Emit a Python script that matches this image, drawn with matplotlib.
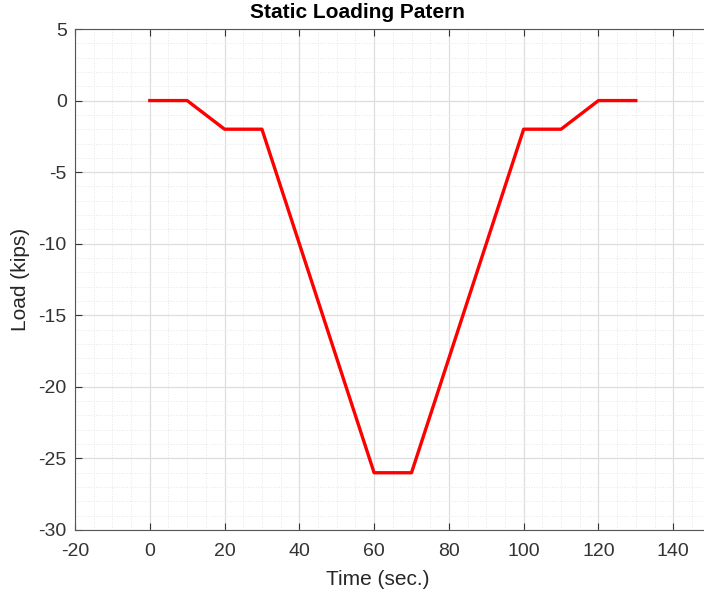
import matplotlib.pyplot as plt
from matplotlib.ticker import MultipleLocator

# Loading pattern
time_s = [0, 10, 20, 30, 60, 70, 100, 110, 120, 130]
load_kips = [0, 0, -2, -2, -26, -26, -2, -2, 0, 0]
x_ticks = [-20, 0, 20, 40, 60, 80, 100, 120, 140]

plt.rcParams['font.family'] = ['Liberation Sans', 'DejaVu Sans']
plt.rcParams['axes.unicode_minus'] = False

fig = plt.figure(figsize=(7.04, 5.97), dpi=100)
ax = fig.add_axes([75 / 704, 67 / 597, 673 / 704, 501 / 597])

ax.plot(time_s, load_kips, color='red', linewidth=2.4)

ax.set_xlim(-20, 160)
ax.set_ylim(-30, 5)
ax.set_xticks(x_ticks)
ax.xaxis.set_minor_locator(MultipleLocator(5))
ax.yaxis.set_major_locator(MultipleLocator(5))
ax.yaxis.set_minor_locator(MultipleLocator(1))

ax.grid(which='major', color='#dedede', linewidth=0.9)
ax.grid(which='minor', color='#e6e6e6', linewidth=0.7, linestyle=':')
ax.set_axisbelow(True)

ax.tick_params(which='both', direction='in', top=True, right=True,
               labelsize=14, colors='#333333', length=5, width=0.8)
ax.tick_params(axis='x', pad=9)
ax.tick_params(axis='y', pad=6)
ax.tick_params(which='minor', length=0)
for s in ax.spines.values():
    s.set_color('#555555')
    s.set_linewidth(0.8)

ax.set_xlabel('Time (sec.)', fontsize=15, color='#262626')
ax.xaxis.set_label_coords((378 - 75) / 673, -0.08)
ax.set_ylabel('Load (kips)', fontsize=15, color='#262626', labelpad=6)
ax.set_title('Static Loading Patern', fontsize=15, fontweight='bold',
             pad=8, x=(357 - 75) / 673)

fig.savefig('out.png', dpi=100)
